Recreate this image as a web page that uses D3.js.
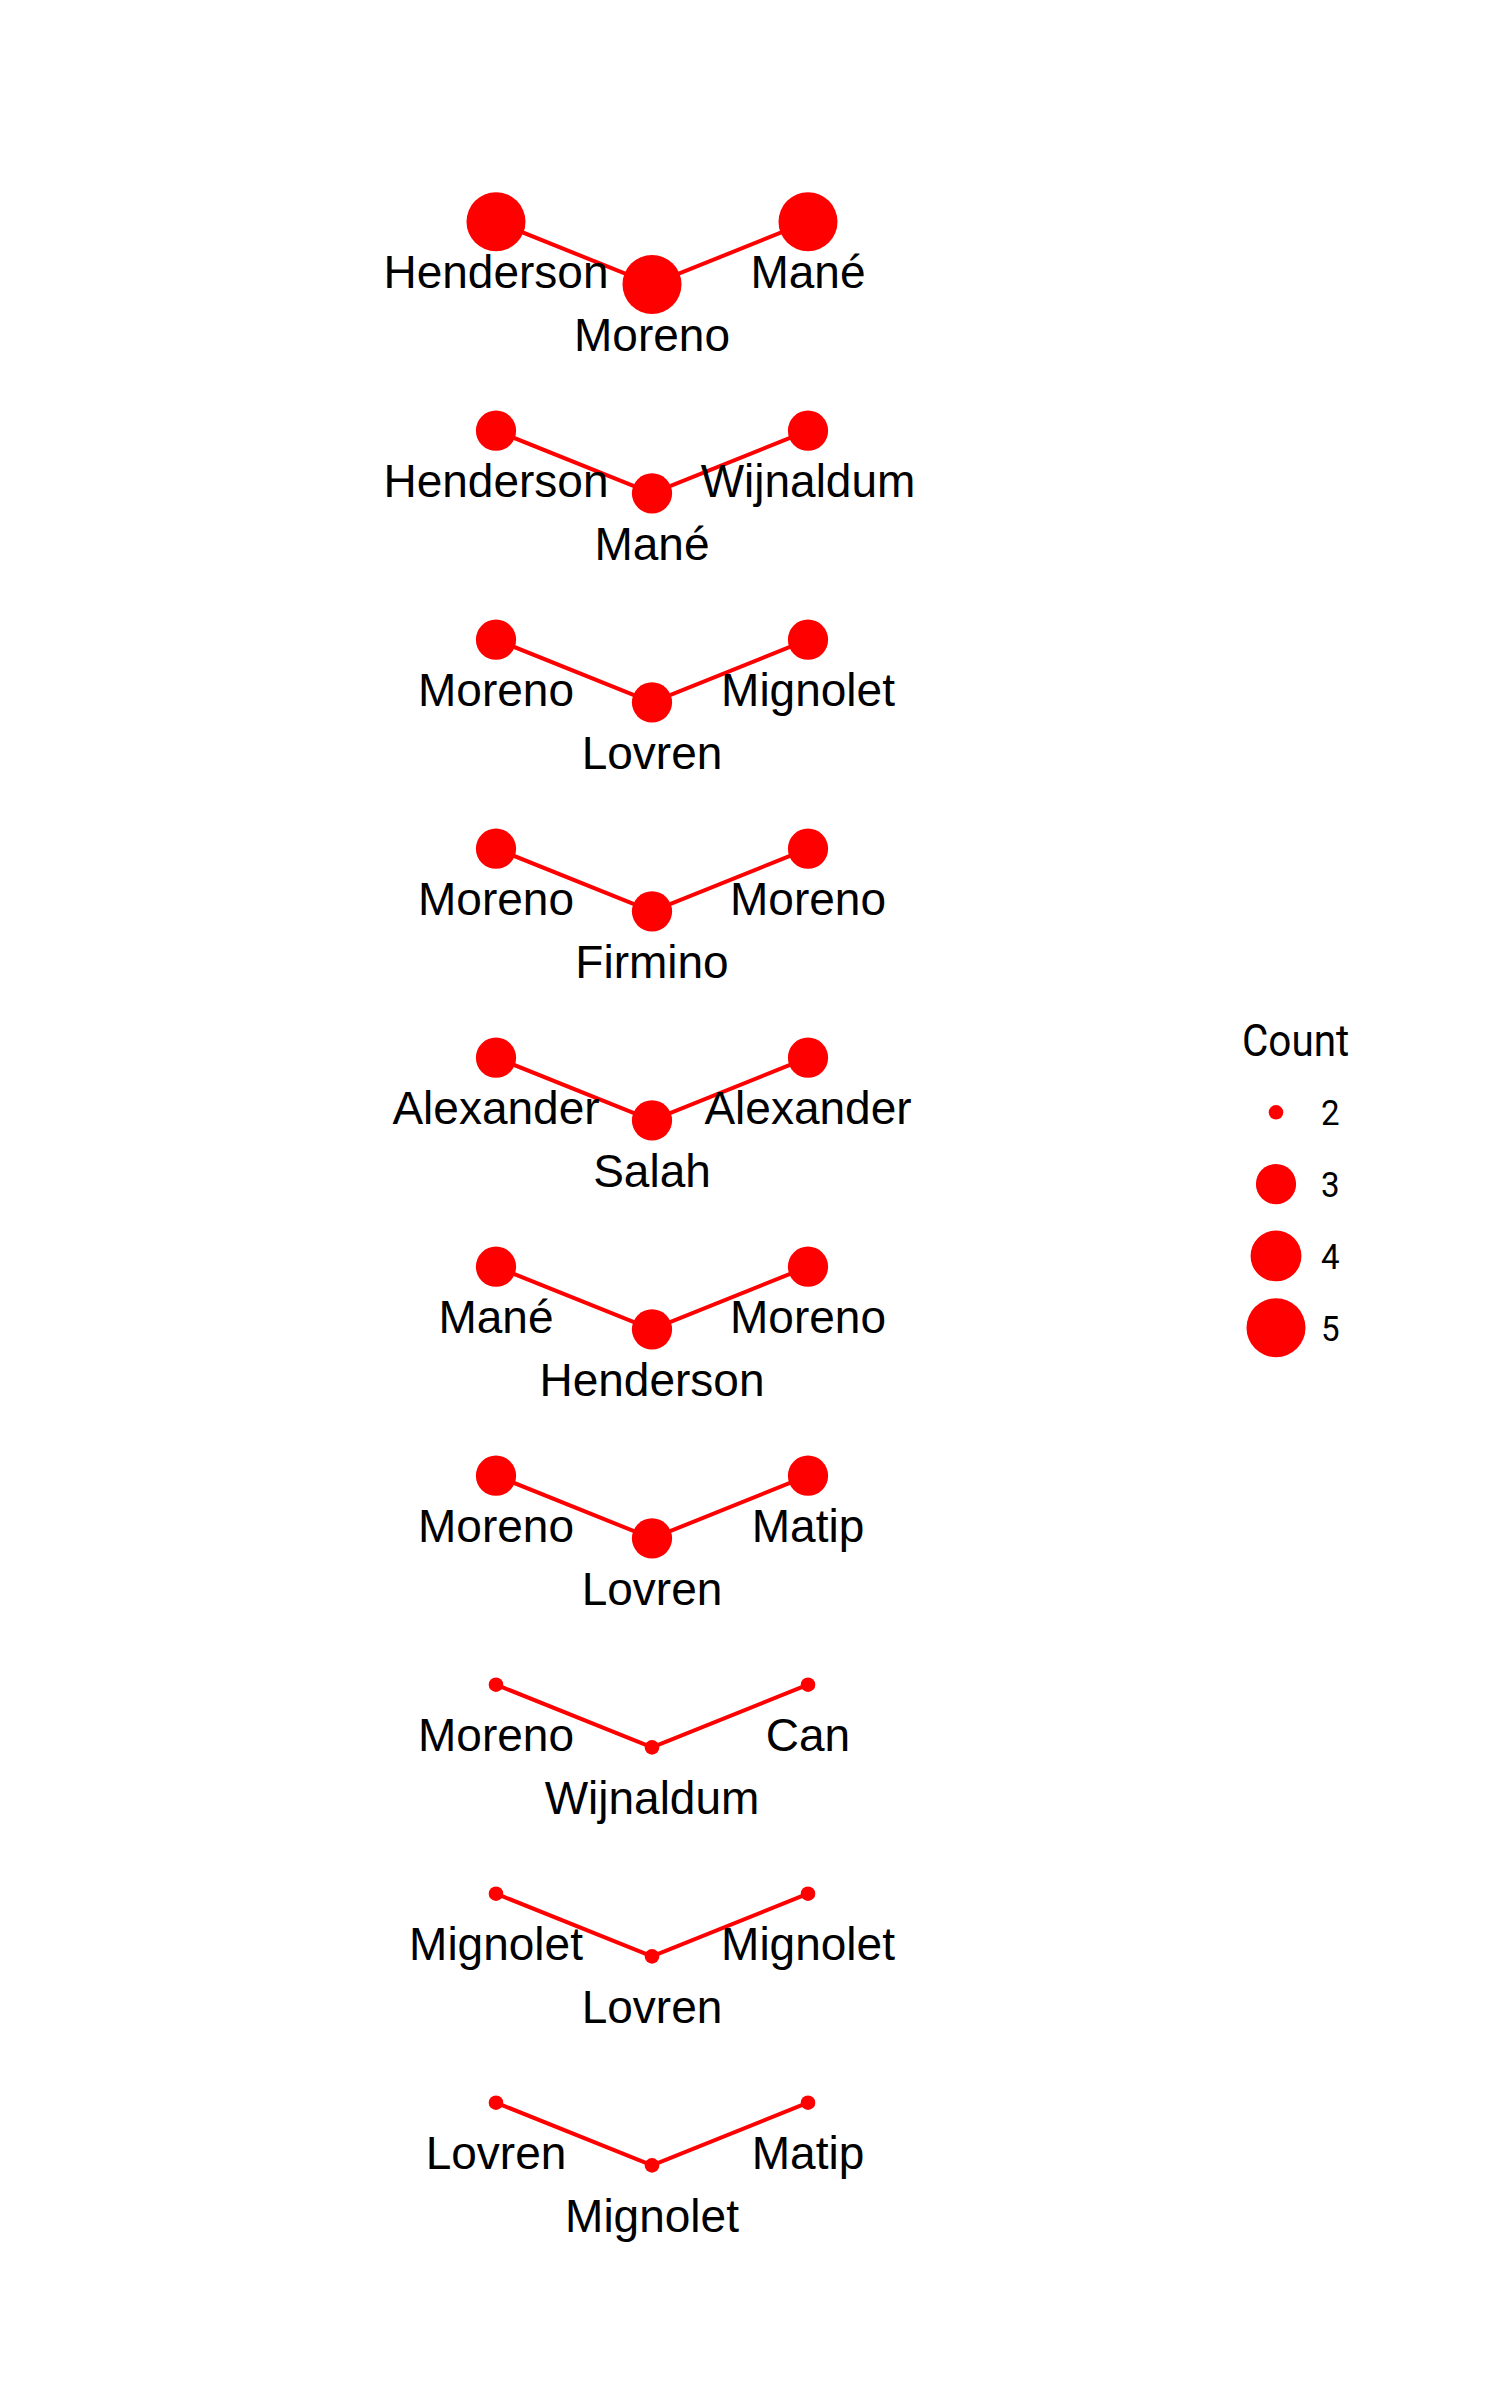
<!DOCTYPE html>
<html>
<head>
<meta charset="utf-8">
<script src="https://cdn.jsdelivr.net/npm/d3@7"></script>
<style>
  html, body { margin: 0; padding: 0; background: #fff; }
  svg { display: block; }
</style>
</head>
<body>
<svg id="chart" width="1500" height="2400"></svg>
<script>
// ---- data ----
const chainFirst  = ["Henderson","Henderson","Moreno","Moreno","Alexander","Mané","Moreno","Moreno","Mignolet","Lovren"];
const chainSecond = ["Moreno","Mané","Lovren","Firmino","Salah","Henderson","Lovren","Wijnaldum","Lovren","Mignolet"];
const chainThird  = ["Mané","Wijnaldum","Mignolet","Moreno","Alexander","Moreno","Matip","Can","Mignolet","Matip"];
const chainCount  = [5,3,3,3,3,3,3,2,2,2];
const legendCounts = [2,3,4,5];
const legendTitle = "Count";

// ---- build rows ----
const midDrop = 0.3;     // middle player sits lower (data units)
const labelNudge = 0.318; // label below its point (data units)
const chains = chainFirst.map((f, i) => ({
  row: i,
  count: chainCount[i],
  nodes: [
    { pos: 1, y: -i,           name: f },
    { pos: 2, y: -i - midDrop, name: chainSecond[i] },
    { pos: 3, y: -i,           name: chainThird[i] }
  ]
}));

const svg = d3.select("#chart");
const x = d3.scaleLinear().domain([1, 3]).range([496, 808]);
const y = d3.scaleLinear().domain([0, -9 - midDrop]).range([221.7, 2165.4]);
const t = d3.scaleLinear().domain([2, 5]).range([0, 1]);
const rs = d3.scaleSqrt().domain([0, 1]).range([7.3, 29.5]);
const radius = c => rs(t(c));
const red = "#FF0000";

const line = d3.line().x(d => x(d.pos)).y(d => y(d.y));

const g = svg.append("g");
g.selectAll("path.chain").data(chains).join("path")
  .attr("class", "chain")
  .attr("d", d => line(d.nodes))
  .attr("fill", "none")
  .attr("stroke", red)
  .attr("stroke-width", 4);

chains.forEach(ch => {
  g.append("g").selectAll("circle").data(ch.nodes).join("circle")
    .attr("cx", d => x(d.pos))
    .attr("cy", d => y(d.y))
    .attr("r", radius(ch.count))
    .attr("fill", red);
});

chains.forEach(ch => {
  g.append("g").selectAll("text").data(ch.nodes).join("text")
    .attr("x", d => x(d.pos))
    .attr("y", d => y(d.y - labelNudge))
    .attr("text-anchor", "middle")
    .attr("font-family", "'Liberation Sans', Arial, sans-serif")
    .attr("font-size", 46)
    .attr("fill", "#000")
    .text(d => d.name);
});

// ---- legend ----
const lg = svg.append("g");
const ly = d3.scalePoint().domain(legendCounts).range([1112.3, 1327.7]);
lg.append("text")
  .attr("transform", "translate(1242,1056) scale(0.92,1)")
  .attr("font-family", "Roboto, sans-serif")
  .attr("font-size", 44)
  .attr("fill", "#000")
  .text(legendTitle);
lg.selectAll("circle").data(legendCounts).join("circle")
  .attr("cx", 1276)
  .attr("cy", d => ly(d))
  .attr("r", d => radius(d))
  .attr("fill", red);
lg.selectAll("text.lab").data(legendCounts).join("text")
  .attr("class", "lab")
  .attr("transform", d => `translate(1321,${ly(d) + 13}) scale(0.92,1)`)
  .attr("font-family", "Roboto, sans-serif")
  .attr("font-size", 36)
  .attr("fill", "#000")
  .text(d => d);
</script>
</body>
</html>
